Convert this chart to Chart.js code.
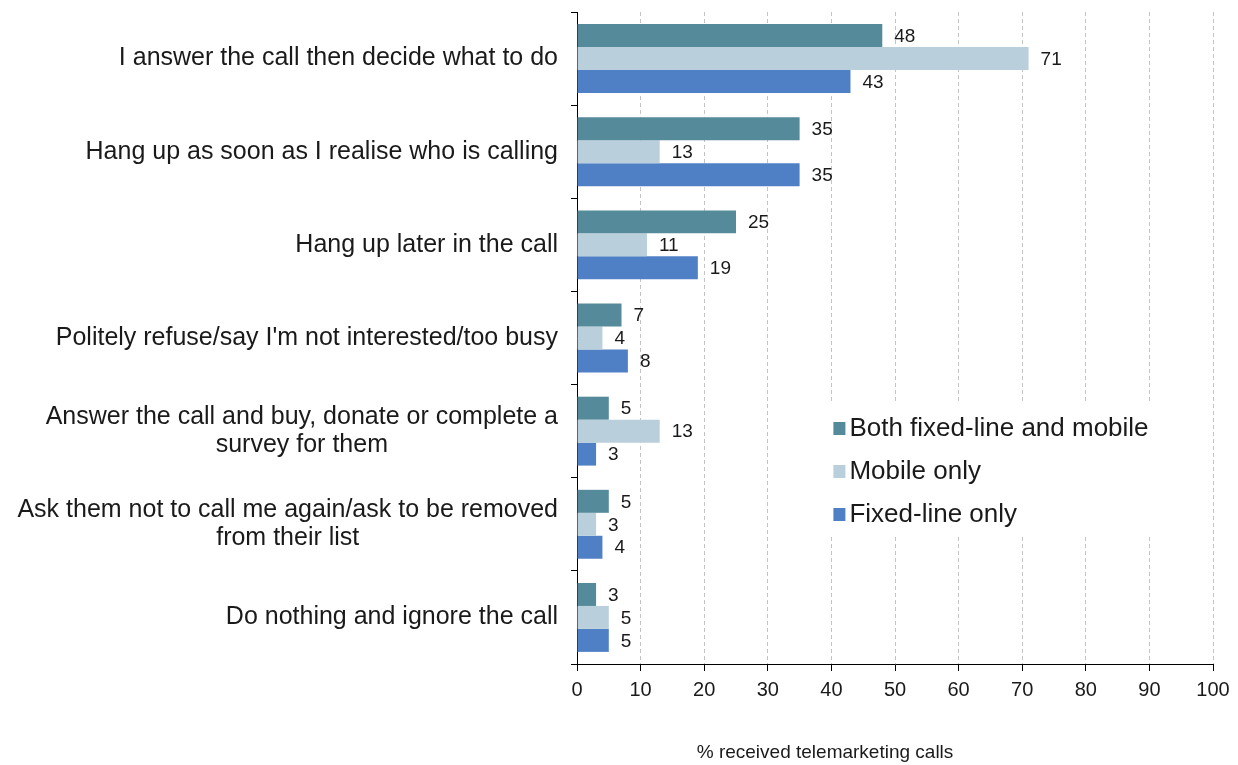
<!DOCTYPE html>
<html>
<head>
<meta charset="utf-8">
<script src="https://cdn.jsdelivr.net/npm/chart.js@4.4.1/dist/chart.umd.min.js"></script>
<style>
  html, body { margin: 0; padding: 0; background: #fff; }
  #wrap { width: 1238px; height: 765px; position: relative; }
</style>
</head>
<body>
<div id="wrap"><canvas id="grafico"></canvas></div>
<script>
// answers, top to bottom
const respostas = [
  ["I answer the call then decide what to do"],
  ["Hang up as soon as I realise who is calling"],
  ["Hang up later in the call"],
  ["Politely refuse/say I'm not interested/too busy"],
  ["Answer the call and buy, donate or complete a", "survey for them"],
  ["Ask them not to call me again/ask to be removed", "from their list"],
  ["Do nothing and ignore the call"]
];
const seriesNames = ["Both fixed-line and mobile", "Mobile only", "Fixed-line only"];
const ambos = [48, 35, 25, 7, 5, 5, 3];
const soMovel = [71, 13, 11, 4, 13, 3, 5];
const soFixo = [43, 35, 19, 8, 3, 4, 5];
const xMin = 0, xMax = 100, xStep = 10;
const tituloX = "% received telemarketing calls";

const cores = ["#548a99", "#b9cfdb", "#4f80c6"];
const fonte = "'Liberation Sans', Arial, sans-serif";

// fundo branco
const fundo = {
  id: "fundo",
  beforeDraw(chart) {
    const c = chart.ctx;
    c.save();
    c.fillStyle = "#fff";
    c.fillRect(0, 0, chart.width, chart.height);
    c.restore();
  }
};

// rótulos das categorias (linhas quebradas centradas no bloco)
const rotulos = {
  id: "rotulos",
  afterDraw(chart) {
    const c = chart.ctx;
    const y = chart.scales.y;
    const direita = chart.chartArea.left - 19;
    c.save();
    c.font = "25px " + fonte;
    c.fillStyle = "#1a1a1a";
    c.textBaseline = "middle";
    respostas.forEach((linhas, i) => {
      const yc = y.getPixelForValue(i);
      const alt = 28;
      const y0 = yc - (linhas.length - 1) * alt / 2;
      if (linhas.length === 1) {
        c.textAlign = "right";
        c.fillText(linhas[0], direita, yc);
      } else {
        const larg = Math.max(...linhas.map((l) => c.measureText(l).width));
        c.textAlign = "center";
        linhas.forEach((l, k) => c.fillText(l, direita - larg / 2, y0 + k * alt));
      }
    });
    // título do eixo x
    c.font = "19px " + fonte;
    c.textAlign = "center";
    c.fillText(tituloX, chart.scales.x.getPixelForValue(39), chart.chartArea.bottom + 89);
    c.restore();
  }
};

// valores ao lado das barras
const valores = {
  id: "valores",
  afterDatasetsDraw(chart) {
    const c = chart.ctx;
    c.save();
    c.font = "19px " + fonte;
    c.fillStyle = "#1a1a1a";
    c.textAlign = "left";
    c.textBaseline = "middle";
    chart.data.datasets.forEach((ds, d) => {
      chart.getDatasetMeta(d).data.forEach((bar, i) => {
        c.fillText(String(ds.data[i]), bar.x + 12, bar.y + 1);
      });
    });
    c.restore();
  }
};

// legenda dentro da área do gráfico
const legenda = {
  id: "legenda",
  afterDatasetsDraw(chart) {
    const c = chart.ctx;
    const x = chart.scales.x.getPixelForValue(40) + 2;
    const topo = chart.chartArea.top + 416;
    c.save();
    c.fillStyle = "#fff";
    c.fillRect(x - 22, topo - 24, 350, 130);
    c.font = "26px " + fonte;
    c.textBaseline = "middle";
    c.textAlign = "left";
    seriesNames.forEach((nome, i) => {
      const yy = topo + i * 43;
      c.fillStyle = cores[i];
      c.fillRect(x, yy - 6, 12, 13);
      c.fillStyle = "#1a1a1a";
      c.fillText(nome, x + 16, yy + 1);
    });
    c.restore();
  }
};

new Chart(document.getElementById("grafico").getContext("2d"), {
  type: "bar",
  data: {
    labels: respostas,
    datasets: [
      { label: seriesNames[0], data: ambos, backgroundColor: cores[0] },
      { label: seriesNames[1], data: soMovel, backgroundColor: cores[1] },
      { label: seriesNames[2], data: soFixo, backgroundColor: cores[2] }
    ]
  },
  options: {
    indexAxis: "y",
    responsive: true,
    maintainAspectRatio: false,
    animation: false,
    events: [],
    layout: { padding: { top: 12, right: 25, left: 0, bottom: 0 } },
    datasets: { bar: { categoryPercentage: 0.74, barPercentage: 1.0 } },
    plugins: {
      legend: { display: false },
      tooltip: { enabled: false }
    },
    scales: {
      x: {
        min: xMin,
        max: xMax,
        afterFit: (s) => { s.height = 101; },
        ticks: {
          stepSize: xStep,
          font: { size: 20, family: fonte },
          color: "#1a1a1a",
          padding: 7
        },
        grid: {
          color: "#c4c4c4",
          tickColor: "#000",
          tickBorderDash: [],
          tickLength: 7
        },
        border: { color: "#000", width: 1, dash: [4, 3] }
      },
      y: {
        afterFit: (s) => { s.width = 577; },
        ticks: { display: false },
        grid: {
          offset: true,
          drawOnChartArea: false,
          tickColor: "#000",
          tickLength: 6
        },
        border: { color: "#000", width: 1 }
      }
    }
  },
  plugins: [fundo, rotulos, valores, legenda]
});
</script>
</body>
</html>
